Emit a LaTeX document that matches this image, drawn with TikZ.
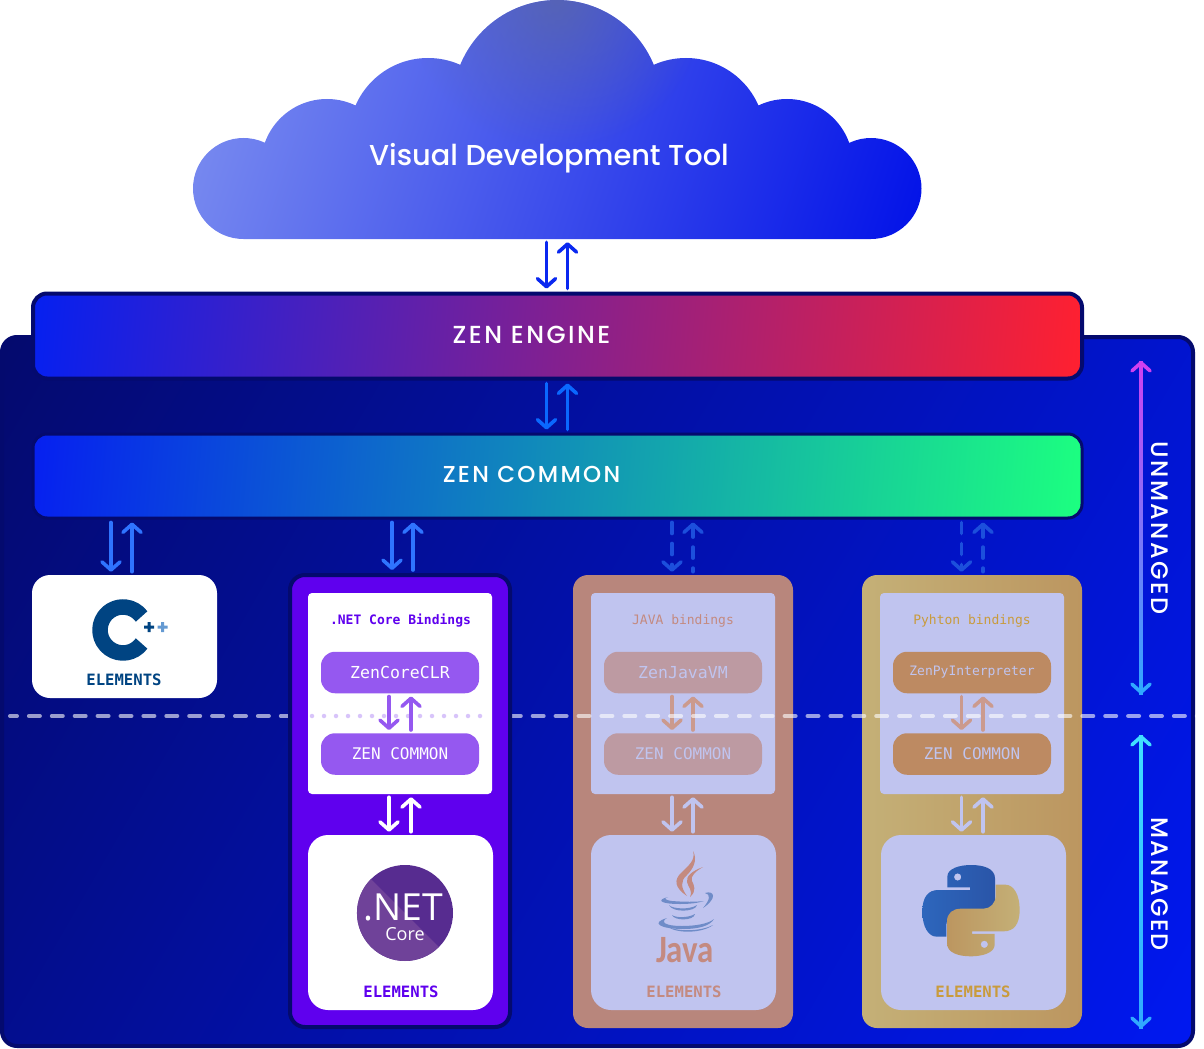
\documentclass[tikz,border=0pt]{standalone}
\usepackage{fontspec}
\usetikzlibrary{arrows.meta,fadings}
\newfontfamily\headfont[UprightFont={* Medium}]{Poppins}
\newfontfamily\spacedfont[UprightFont={* Medium},LetterSpace=10]{Poppins}
\newfontfamily\codefont{DejaVu Sans Mono}
\newfontfamily\logofont{Open Sans}
\newfontfamily\javafont[FakeStretch=.85]{Carlito}
\def\px{.75pt}
\definecolor{navyedge}{HTML}{040A6E}
\definecolor{panelblue}{HTML}{0018F0}
\definecolor{netviolet}{HTML}{5F00EE}
\definecolor{netpill}{HTML}{9558F0}
\definecolor{netdot}{HTML}{D8C4FA}
\definecolor{netdark}{HTML}{572C90}
\definecolor{netlight}{HTML}{6F4299}
\definecolor{javapanel}{HTML}{B8867C}
\definecolor{javapill}{HTML}{BD9AA2}
\definecolor{javatext}{HTML}{C48A80}
\definecolor{javalink}{HTML}{CB9A8E}
\definecolor{lavender}{HTML}{C0C4EF}
\definecolor{pyleft}{HTML}{C4B077}
\definecolor{pyright}{HTML}{BC9660}
\definecolor{pypill}{HTML}{BD8A62}
\definecolor{pytext}{HTML}{C99B3C}
\definecolor{pyblueA}{HTML}{2D66BC}
\definecolor{pyblueB}{HTML}{2A55A8}
\definecolor{cppblue}{HTML}{004482}
\definecolor{cpplight}{HTML}{659AD2}
\definecolor{cupblue}{HTML}{6F8CC8}
\definecolor{cloudlight}{HTML}{8092F0}
\definecolor{clouddeep}{HTML}{0010E8}
\definecolor{cloudtop}{HTML}{5C68A0}
\definecolor{enginestart}{HTML}{0620F0}
\definecolor{enginestop}{HTML}{FF2030}
\definecolor{commonstop}{HTML}{1CFF80}
\definecolor{cloudarrow}{HTML}{0A28F0}
\definecolor{enginearrow}{HTML}{0A68FF}
\definecolor{cpparrow}{HTML}{2F74FF}
\definecolor{stubarrow}{HTML}{1C4FDC}
\definecolor{axismag}{HTML}{D040F0}
\definecolor{axismid}{HTML}{30A8FF}
\definecolor{axiscyan}{HTML}{40E0FF}
\pgfdeclareverticalshading{panelshade}{100bp}{color(0bp)=(panelblue); color(16bp)=(panelblue); color(84bp)=(navyedge); color(100bp)=(navyedge)}
\pgfdeclareverticalshading{cloudshade}{100bp}{color(0bp)=(clouddeep); color(18bp)=(clouddeep); color(82bp)=(cloudlight); color(100bp)=(cloudlight)}
\pgfdeclareverticalshading{engineshade}{100bp}{color(0bp)=(enginestop); color(23bp)=(enginestop); color(77bp)=(enginestart); color(100bp)=(enginestart)}
\pgfdeclareverticalshading{commonshade}{100bp}{color(0bp)=(commonstop); color(23bp)=(commonstop); color(77bp)=(enginestart); color(100bp)=(enginestart)}
\newcommand{\cloudpath}{(243.5,188.5) circle[radius=50.5] (327,165) circle[radius=66]
  (428,137) circle[radius=79] (557,104.6) circle[radius=104.6] (686,137) circle[radius=79]
  (787,165) circle[radius=66] (871,188.5) circle[radius=50.5]
  (243.5,239) -- (243.5,175) -- (871,175) -- (871,239) -- cycle}
\newcommand{\pysnake}{(70,105) -- (165,105) -- (165,97) -- (97,97) -- (97,65)
  .. controls (97,40) and (135,30) .. (168,30) .. controls (205,30) and (240,40) .. (240,70)
  -- (240,135) .. controls (240,160) and (222,173) .. (198,173) -- (130,173)
  .. controls (110,173) and (94,190) .. (94,212) -- (94,245) -- (65,245)
  .. controls (40,245) and (22,215) .. (22,170) .. controls (22,125) and (40,105) .. (70,105) -- cycle}
\tikzfading[name=fade top, inner color=transparent!30, outer color=transparent!100]
\tikzset{
  box/.style={rectangle, inner sep=0pt, align=center},
  bindbox/.style={box, minimum width=184*\px, minimum height=201*\px, rounded corners=4*\px},
  elembox/.style={box, minimum width=185*\px, minimum height=175*\px, rounded corners=20*\px},
  pill/.style={box, minimum width=158*\px, minimum height=41.5*\px, rounded corners=14*\px},
  sidepanel/.style={box, minimum width=220*\px, minimum height=453*\px, rounded corners=15*\px},
  titletxt/.style={font=\codefont\fontsize{9.75}{12}\selectfont},
  pilltxt/.style={font=\codefont\fontsize{12.4}{15}\selectfont},
  commontxt/.style={font=\codefont\fontsize{12}{15}\selectfont},
  elemtxt/.style={font=\codefont\bfseries\fontsize{11.7}{14}\selectfont},
  sidetxt/.style={text=white, rotate=-90, font=\spacedfont\fontsize{17.9}{20}\selectfont},
  linkline/.style={line width=3.6*\px, line cap=round, shorten >=3*\px, shorten <=3*\px,
    >={Straight Barb[round, length=6pt, width=13.5pt]}},
  cloudlink/.style={linkline, color=cloudarrow},
  enginelink/.style={linkline, color=enginearrow},
  cpplink/.style={linkline, color=cpparrow},
  stublink/.style={linkline, color=stubarrow, dash pattern=on 11*\px off 10*\px},
  netlink/.style={linkline, color=netpill},
  whitelink/.style={linkline, color=white},
  warmlink/.style={linkline, color=javalink},
  palelink/.style={linkline, color=lavender},
  axisline/.style={line width=3.6*\px, line cap=round, >={Straight Barb[round, length=6pt, width=13.5pt]}}
}
\begin{document}
\begin{tikzpicture}[x=\px, y=-\px, line join=round]
  \useasboundingbox (0,0) rectangle (1204,1049);

  % Cloud
  \begin{scope}
    \clip \cloudpath;
    \shade[shading=cloudshade, shading angle=72] (190,0) rectangle (925,240);
    \fill[cloudtop, path fading=fade top] (557,0) circle[radius=150];
  \end{scope}
  \node[box, minimum width=728*\px, minimum height=239*\px] (cloud) at (557,119.5) {};
  \node[text=white, font=\headfont\fontsize{21.6}{24}\selectfont] (cloudLabel) at (549,158) {Visual Development Tool};

  % Blue panel and the two long bars
  \node[box, draw=navyedge, line width=4*\px, minimum width=1191*\px, minimum height=709*\px, rounded corners=15*\px,
    shade, shading=panelshade, shading angle=60] (panel) at (597.5,691.5) {};
  \node[box, draw=navyedge, line width=4*\px, minimum width=1049*\px, minimum height=85*\px, rounded corners=14*\px,
    shade, shading=engineshade, shading angle=85] (engine) at (557.5,336) {};
  \node[box, draw=navyedge, line width=3*\px, minimum width=1049*\px, minimum height=84*\px, rounded corners=14*\px,
    shade, shading=commonshade, shading angle=85] (common) at (557.5,476) {};
  \node[text=white, font=\spacedfont\fontsize{18.5}{20}\selectfont] (engineLabel) at (531.5,335) {ZEN ENGINE};
  \node[text=white, font=\spacedfont\fontsize{17.3}{20}\selectfont] (commonLabel) at (531.5,474) {ZEN COMMON};

  % C++ card
  \node[box, fill=white, minimum width=185*\px, minimum height=123*\px, rounded corners=18*\px] (cppBox) at (124.5,636.5) {};
  \draw[cppblue, line width=15.5*\px] (141.6,643.5) arc[start angle=36, end angle=324, radius=23];
  \fill[cppblue] (144,625.5) rectangle (154,628.5) (147.5,622) rectangle (150.5,632);
  \fill[cpplight] (157.5,625.5) rectangle (167.5,628.5) (161,622) rectangle (164,632);
  \node[elemtxt, text=cppblue] (cppElem) at (124,680) {ELEMENTS};

  % Java column
  \node[sidepanel, fill=javapanel] (javaPanel) at (683,801.5) {};
  \node[bindbox, fill=lavender] (javaBind) at (683,693.5) {};
  \node[titletxt, text=javatext] (javaTitle) at (683,621) {JAVA bindings};
  \node[pill, fill=javapill, text=lavender, pilltxt] (javaVM) at (683,672.5) {ZenJavaVM};
  \node[pill, fill=javapill, text=lavender, commontxt] (javaCommon) at (683,754) {ZEN COMMON};
  \node[elembox, fill=lavender] (javaElem) at (683.5,922.5) {};
  \node[elemtxt, text=javatext] (javaElemTxt) at (684,992) {ELEMENTS};
  \fill[javatext] (693,851) .. controls (696,860) and (688,866) .. (682,872) .. controls (673,880) and (675,888) .. (687,896)
    .. controls (681,888) and (680,881) .. (687,875) .. controls (693,869) and (698,860) .. (693,851) -- cycle;
  \fill[javatext] (703,867) .. controls (692,871) and (686,876) .. (687,882) .. controls (688,887) and (693,890) .. (690,897)
    .. controls (697,891) and (694,885) .. (692,881) .. controls (690,876) and (696,871) .. (703,867) -- cycle;
  \fill[cupblue] (668,897) .. controls (656,900) and (660,904) .. (680,904) .. controls (690,904) and (698,903) .. (704,901)
    .. controls (696,902) and (684,902) .. (672,901) .. controls (664,900) and (664,898) .. (668,897) -- cycle;
  \fill[cupblue] (705,893) .. controls (714,890) and (718,898) .. (703,908) .. controls (710,900) and (711,894) .. (705,893) -- cycle;
  \fill[cupblue] (669,905) .. controls (672,909) and (690,910) .. (697,905) .. controls (696,912) and (672,913) .. (669,905) -- cycle;
  \fill[cupblue] (672,915) .. controls (676,918) and (688,918) .. (695,914) .. controls (694,921) and (674,921) .. (672,915) -- cycle;
  \fill[cupblue] (667,918) .. controls (650,923) and (660,929) .. (684,929) .. controls (698,929) and (710,926) .. (714,919)
    .. controls (708,924) and (695,926) .. (682,926) .. controls (665,926) and (660,922) .. (667,918) -- cycle;
  \fill[cupblue] (668,927) .. controls (680,932) and (702,931) .. (713,925) .. controls (703,933) and (678,934) .. (668,927) -- cycle;
  \node[text=javatext, font=\javafont\bfseries\fontsize{29}{32}\selectfont] (javaWord) at (685,950) {Java};

  % Python column
  \node[sidepanel, left color=pyleft, right color=pyright] (pyPanel) at (972,801.5) {};
  \node[bindbox, fill=lavender] (pyBind) at (972,693.5) {};
  \node[titletxt, text=pytext] (pyTitle) at (972,621) {Pyhton bindings};
  \node[pill, fill=pypill, text=lavender, font=\codefont\fontsize{9.75}{12}\selectfont] (pyInterp) at (972,672.5) {ZenPyInterpreter};
  \node[pill, fill=pypill, text=lavender, commontxt] (pyCommon) at (972,754) {ZEN COMMON};
  \node[elembox, fill=lavender] (pyElem) at (973.5,922.5) {};
  \node[elemtxt, text=pytext] (pyElemTxt) at (973,992) {ELEMENTS};
  \begin{scope}[shift={(915,855)}, scale=.3333]
    \path[even odd rule, left color=pyblueA, right color=pyblueB] \pysnake (139,66) arc[start angle=0, end angle=360, radius=11];
    \begin{scope}[rotate around={180:(168,167)}]
      \path[even odd rule, left color=pyright, right color=pyleft] \pysnake (139,66) arc[start angle=0, end angle=360, radius=11];
    \end{scope}
  \end{scope}

  % Link columns
  \coordinate (topL) at (546.5,0);
  \coordinate (topR) at (567.5,0);
  \coordinate (cppL) at (111,0);
  \coordinate (cppR) at (132,0);
  \coordinate (netL) at (392,0);
  \coordinate (netR) at (413,0);
  \coordinate (netInL) at (389,0);
  \coordinate (netInR) at (411,0);
  \coordinate (javaL) at (672,0);
  \coordinate (javaR) at (693,0);
  \coordinate (pyL) at (961.5,0);
  \coordinate (pyR) at (983,0);

  \foreach \from/\to/\down/\up/\lk in {
      cloud/engine/topL/topR/cloudlink, engine/common/topL/topR/enginelink,
      common/cppBox/cppL/cppR/cpplink, common/javaPanel/javaL/javaR/stublink, common/pyPanel/pyL/pyR/stublink,
      javaVM/javaCommon/javaL/javaR/warmlink, pyInterp/pyCommon/pyL/pyR/warmlink,
      javaBind/javaElem/javaL/javaR/palelink, pyBind/pyElem/pyL/pyR/palelink} {
    \draw[\lk, ->] (\from.south -| \down) -- (\to.north -| \down);
    \draw[\lk, <-] (\from.south -| \up) -- (\to.north -| \up);
  }

  % Boundary between unmanaged and managed
  \coordinate (dashL) at (10,716);
  \coordinate (dashR) at (1204,716);
  \draw[white, opacity=.6, line width=4*\px, line cap=round, dash pattern=on 11*\px off 11.9*\px, dash phase=4*\px] (dashL) -- (dashR);

  % .NET column
  \node[sidepanel, fill=netviolet, draw=navyedge, line width=4*\px, minimum height=452*\px] (netPanel) at (400,801) {};
  \node[bindbox, fill=white] (netBind) at (400,693.5) {};
  \node[text=netviolet, font=\codefont\bfseries\fontsize{9.75}{12}\selectfont] (netTitle) at (400.5,621) {.NET Core Bindings};
  \node[pill, fill=netpill, text=white, pilltxt] (netCLR) at (400,672.5) {ZenCoreCLR};
  \node[pill, fill=netpill, text=white, commontxt] (netCommon) at (400,754) {ZEN COMMON};
  \node[elembox, fill=white] (netElem) at (400.5,922.5) {};
  \node[elemtxt, text=netviolet] (netElemTxt) at (401,992) {ELEMENTS};
  \node[circle, inner sep=0pt, minimum size=96*\px, fill=netdark] (netLogo) at (405,913) {};
  \fill[netlight] (371,879) arc[start angle=225, end angle=45, radius=48] -- cycle;
  \node[text=white, inner sep=0pt, font=\logofont\fontsize{28}{32}\selectfont] (netWord) at (403,907) {.NET};
  \node[text=white, inner sep=0pt, font=\logofont\fontsize{13.5}{16}\selectfont] (netCore) at (405,934) {Core};
  \coordinate (dotL) at (312,716);
  \coordinate (dotR) at (490,716);
  \draw[netdot, line width=4.5*\px, line cap=round, dash pattern=on 0pt off 12*\px] (dotL) -- (dotR);

  \foreach \from/\to/\down/\up/\lk in {
      common/netPanel/netL/netR/cpplink, netCLR/netCommon/netInL/netInR/netlink, netBind/netElem/netInL/netInR/whitelink} {
    \draw[\lk, ->] (\from.south -| \down) -- (\to.north -| \down);
    \draw[\lk, <-] (\from.south -| \up) -- (\to.north -| \up);
  }

  % Side axes
  \coordinate (unTop) at (1141,361);
  \coordinate (unBot) at (1141,694);
  \coordinate (manTop) at (1141,735);
  \coordinate (manBot) at (1141,1028);
  \shade[top color=axismag, bottom color=axismid] (1139.2,361) rectangle (1142.8,694);
  \shade[top color=axiscyan, bottom color=axismid] (1139.2,735) rectangle (1142.8,1028);
  \draw[axisline, <-, color=axismag] (unTop) -- ++(0,8);
  \draw[axisline, ->, color=axismid] (unBot) ++(0,-8) -- (unBot);
  \draw[axisline, <-, color=axiscyan] (manTop) -- ++(0,8);
  \draw[axisline, ->, color=axismid] (manBot) ++(0,-8) -- (manBot);
  \node[sidetxt] (unLabel) at (1160,528) {UNMANAGED};
  \node[sidetxt] (manLabel) at (1160,884) {MANAGED};
\end{tikzpicture}
\end{document}
